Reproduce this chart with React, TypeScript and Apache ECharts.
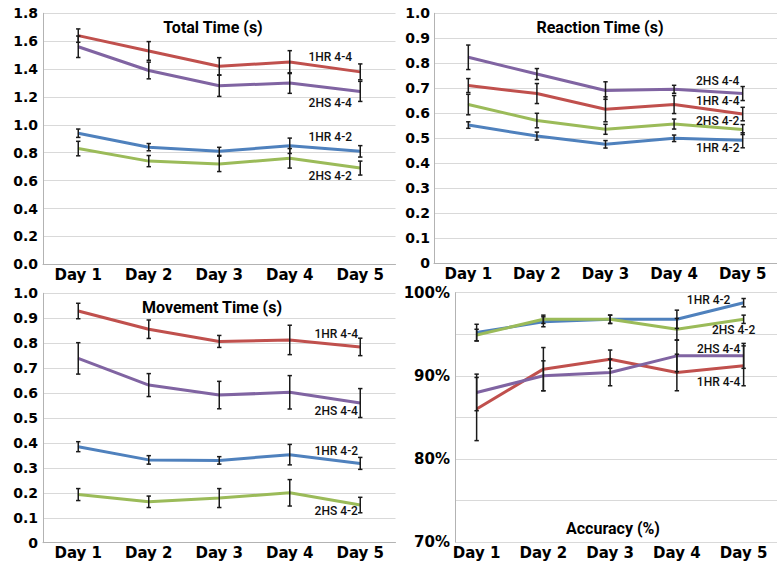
import React, { useEffect, useRef } from "react";
import * as echarts from "echarts";

const days = ["Day 1", "Day 2", "Day 3", "Day 4", "Day 5"];
const seriesNames = ["1HR 4-2", "1HR 4-4", "2HS 4-2", "2HS 4-4"];
const seriesColors = ["#4F81BD", "#C0504D", "#9BBB59", "#8064A2"];

// Total Time (s)
const total1HR42 = [0.94, 0.84, 0.81, 0.85, 0.81];
const total1HR44 = [1.64, 1.53, 1.42, 1.45, 1.38];
const total2HS42 = [0.83, 0.74, 0.72, 0.76, 0.69];
const total2HS44 = [1.56, 1.39, 1.28, 1.3, 1.24];
const totalErr1HR42 = [0.03, 0.026, 0.029, 0.055, 0.041];
const totalErr1HR44 = [0.048, 0.067, 0.062, 0.082, 0.057];
const totalErr2HS42 = [0.052, 0.04, 0.055, 0.07, 0.05];
const totalErr2HS44 = [0.077, 0.06, 0.076, 0.074, 0.072];

// Reaction Time (s)
const react1HR42 = [0.553, 0.509, 0.476, 0.5, 0.492];
const react1HR44 = [0.711, 0.679, 0.616, 0.635, 0.597];
const react2HS42 = [0.635, 0.571, 0.536, 0.557, 0.535];
const react2HS44 = [0.824, 0.757, 0.691, 0.696, 0.679];
const reactErr1HR42 = [0.013, 0.016, 0.015, 0.013, 0.03];
const reactErr1HR44 = [0.028, 0.04, 0.05, 0.036, 0.027];
const reactErr2HS42 = [0.041, 0.029, 0.02, 0.02, 0.02];
const reactErr2HS44 = [0.049, 0.022, 0.035, 0.016, 0.028];

// Movement Time (s)
const move1HR42 = [0.385, 0.332, 0.33, 0.353, 0.318];
const move1HR44 = [0.929, 0.856, 0.807, 0.813, 0.785];
const move2HS42 = [0.193, 0.164, 0.179, 0.2, 0.151];
const move2HS44 = [0.739, 0.632, 0.592, 0.603, 0.56];
const moveErr1HR42 = [0.02, 0.017, 0.015, 0.041, 0.024];
const moveErr1HR44 = [0.031, 0.037, 0.024, 0.059, 0.035];
const moveErr2HS42 = [0.024, 0.023, 0.038, 0.053, 0.031];
const moveErr2HS44 = [0.063, 0.046, 0.055, 0.067, 0.058];

// Accuracy (%)
const acc1HR42 = [95.2, 96.5, 96.8, 96.8, 98.8];
const acc1HR44 = [86.0, 90.8, 92.0, 90.4, 91.2];
const acc2HS42 = [94.9, 96.8, 96.8, 95.6, 96.8];
const acc2HS44 = [88.0, 90.0, 90.4, 92.4, 92.4];
const accErr1HR42 = [1.0, 0.6, 0.5, 1.1, 0.5];
const accErr1HR44 = [3.8, 2.6, 1.1, 2.2, 2.4];
const accErr2HS42 = [0.7, 0.5, 0.5, 1.3, 0.5];
const accErr2HS44 = [2.2, 1.8, 1.6, 1.9, 1.5];

const panelTitles = ["Total Time (s)", "Reaction Time (s)", "Movement Time (s)", "Accuracy (%)"];

const FONT = "Roboto, 'Liberation Sans', Arial, sans-serif";
const TICK_FONT = "'DejaVu Sans', Verdana, sans-serif";

export default function App() {
  const ref = useRef<HTMLDivElement>(null);

  useEffect(() => {
    if (!ref.current) return;
    const chart = echarts.init(ref.current, undefined, { renderer: "svg" });

    const panels = [
      {
        values: [total1HR42, total1HR44, total2HS42, total2HS44],
        errs: [totalErr1HR42, totalErr1HR44, totalErr2HS42, totalErr2HS44],
        offsets: [[-30, -14], [-30, -15], [-30, 8], [-30, 12]],
      },
      {
        values: [react1HR42, react1HR44, react2HS42, react2HS44],
        errs: [reactErr1HR42, reactErr1HR44, reactErr2HS42, reactErr2HS44],
        offsets: [[-25, 8], [-25, -13], [-25, -9], [-25, -13]],
      },
      {
        values: [move1HR42, move1HR44, move2HS42, move2HS44],
        errs: [moveErr1HR42, moveErr1HR44, moveErr2HS42, moveErr2HS44],
        offsets: [[-24, -12], [-24, -13], [-24, 6], [-24, 8]],
      },
      {
        values: [acc1HR42, acc1HR44, acc2HS42, acc2HS44],
        errs: [accErr1HR42, accErr1HR44, accErr2HS42, accErr2HS44],
        offsets: [[-35, -3], [-25, 16], [-10, 11], [-25, -7]],
      },
    ];

    const grids = [
      { left: 43, top: 13.3, width: 352.5, height: 251 },
      { left: 434, top: 13.3, width: 352.5, height: 250 },
      { left: 43, top: 293.3, width: 352.5, height: 249.4 },
      { left: 443.25, top: 292.7, width: 347.5, height: 249.3 },
      { left: 455, top: 292.7, width: 336, height: 249.3 },
    ];

    const axisLineStyle = { lineStyle: { color: "#b3b3b3", width: 1 } };
    const splitLineStyle = { show: true, lineStyle: { color: "#d9d9d9", width: 1 } };
    const labelFont = { fontFamily: TICK_FONT, fontWeight: "bold" as const, color: "#000" };

    const xAxes: any[] = [0, 1, 2, 3].map((g) => ({
      type: "category",
      gridIndex: g,
      data: days,
      boundaryGap: true,
      axisLine: g === 3 ? { show: false } : { show: true, ...axisLineStyle },
      axisTick: { show: false },
      axisLabel: { ...labelFont, fontSize: 15, margin: 3, interval: 0 },
      splitLine: { show: false },
    }));
    xAxes.push({ type: "value", gridIndex: 4, show: false, min: 0, max: 1 });

    const yAxes: any[] = [
      {
        type: "value", gridIndex: 0, min: 0, max: 1.8, interval: 0.2,
        axisLine: { show: true, ...axisLineStyle }, axisTick: { show: false },
        axisLabel: { ...labelFont, fontSize: 14, margin: 5, formatter: (v: number) => v.toFixed(1) },
        splitLine: splitLineStyle,
      },
      {
        type: "value", gridIndex: 1, min: 0, max: 1, interval: 0.1,
        axisLine: { show: true, ...axisLineStyle }, axisTick: { show: false },
        axisLabel: { ...labelFont, fontSize: 14, margin: 4, formatter: (v: number) => (v === 0 ? "0" : v.toFixed(1)) },
        splitLine: splitLineStyle,
      },
      {
        type: "value", gridIndex: 2, min: 0, max: 1, interval: 0.1,
        axisLine: { show: true, ...axisLineStyle }, axisTick: { show: false },
        axisLabel: { ...labelFont, fontSize: 14, margin: 5, formatter: (v: number) => (v === 0 ? "0" : v.toFixed(1)) },
        splitLine: splitLineStyle,
      },
      { type: "value", gridIndex: 3, min: 70, max: 100, show: false },
      {
        type: "value", gridIndex: 4, min: 70, max: 100, interval: 5,
        axisLine: { show: true, ...axisLineStyle }, axisTick: { show: false },
        axisLabel: {
          ...labelFont, fontSize: 15, margin: 5,
          formatter: (v: number) => (v % 10 === 0 ? v + "%" : ""),
        },
        splitLine: splitLineStyle,
      },
    ];

    const series: any[] = [];
    panels.forEach((p, pi) => {
      p.values.forEach((vals, si) => {
        const [dx, dy] = p.offsets[si];
        series.push({
          type: "line",
          name: seriesNames[si] + " " + pi,
          xAxisIndex: pi,
          yAxisIndex: pi,
          data: vals.map((v, i) =>
            i === vals.length - 1
              ? {
                  value: v,
                  label: {
                    show: true,
                    position: "inside",
                    offset: [dx, dy],
                    formatter: () => seriesNames[si],
                    fontFamily: FONT,
                    fontSize: 12,
                    fontWeight: 500,
                    color: "#111",
                  },
                }
              : v
          ),
          symbol: "circle",
          symbolSize: 1,
          showSymbol: true,
          lineStyle: { color: seriesColors[si], width: 3 },
          itemStyle: { color: seriesColors[si] },
          z: 2,
        });
      });
      p.values.forEach((vals, si) => {
        series.push({
          type: "custom",
          name: "err " + seriesNames[si] + " " + pi,
          xAxisIndex: pi,
          yAxisIndex: pi,
          data: vals.map((v, i) => [i, v - p.errs[si][i], v + p.errs[si][i]]),
          encode: { x: 0, y: [1, 2] },
          z: 5,
          renderItem: (params: any, api: any) => {
            const x = api.value(0);
            const lo = api.coord([x, api.value(1)]);
            const hi = api.coord([x, api.value(2)]);
            const style = { stroke: "#1a1a1a", lineWidth: 1.5 };
            const c = 2.2;
            return {
              type: "group",
              children: [
                { type: "line", shape: { x1: lo[0], y1: lo[1], x2: hi[0], y2: hi[1] }, style },
                { type: "line", shape: { x1: lo[0] - c, y1: lo[1], x2: lo[0] + c, y2: lo[1] }, style },
                { type: "line", shape: { x1: hi[0] - c, y1: hi[1], x2: hi[0] + c, y2: hi[1] }, style },
              ],
            };
          },
        });
      });
    });

    const titlePos = [
      [213, 27],
      [600, 27],
      [212, 307],
      [613, 528],
    ];

    chart.setOption({
      animation: false,
      backgroundColor: "#ffffff",
      grid: grids,
      xAxis: xAxes,
      yAxis: yAxes,
      series,
      graphic: panelTitles.map((t, i) => ({
        type: "text",
        x: titlePos[i][0],
        y: titlePos[i][1],
        z: 10,
        style: {
          text: t,
          fill: "#000",
          font: `bold 16px ${FONT}`,
          textAlign: "center",
          textVerticalAlign: "middle",
        },
      })),
    });

    return () => chart.dispose();
  }, []);

  return (
    <div
      ref={ref}
      style={{ position: "fixed", left: 0, top: 0, width: 777, height: 565, background: "#fff" }}
    />
  );
}
